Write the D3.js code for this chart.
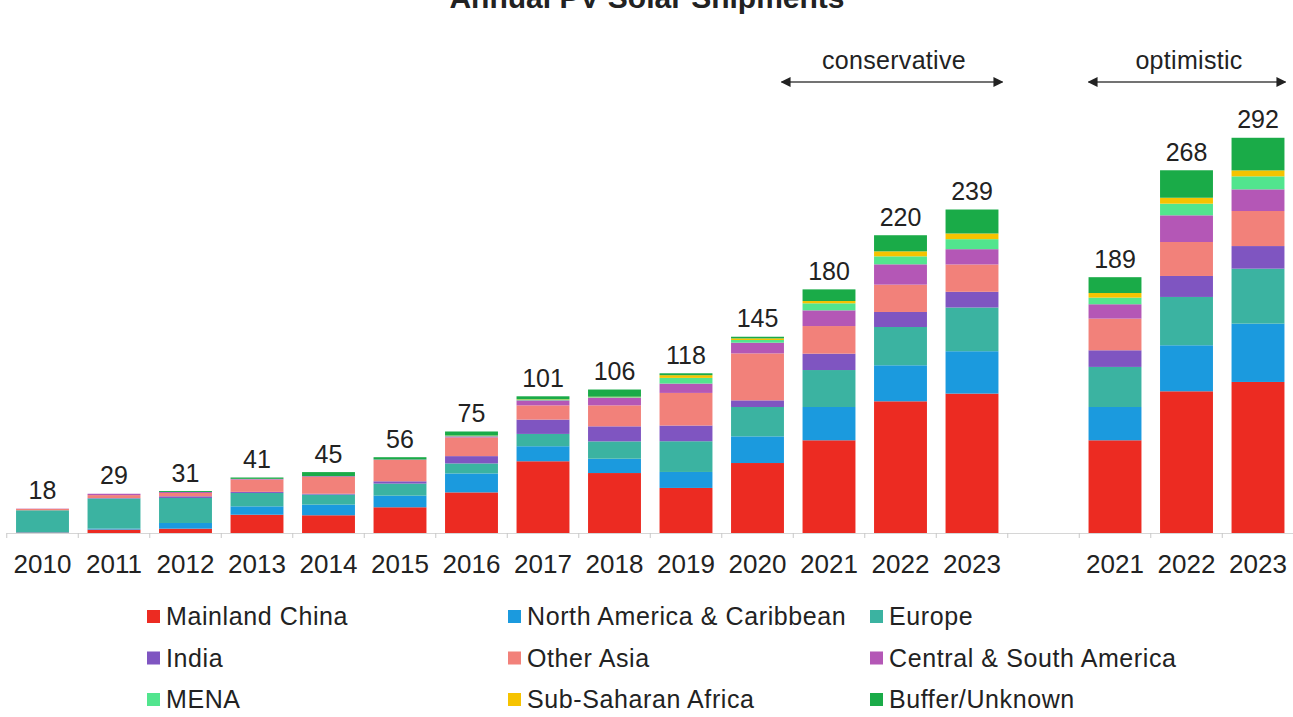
<!DOCTYPE html>
<html>
<head>
<meta charset="utf-8">
<script src="https://cdn.jsdelivr.net/npm/d3@7"></script>
<style>
  body { margin: 0; background: #fff; }
  svg { display: block; font-family: "Liberation Sans", Arial, sans-serif; }
</style>
</head>
<body>
<div id="chart"></div>
<script>
// bar labels, 14 actual/conservative + 3 optimistic
var years = ["2010", "2011", "2012", "2013", "2014", "2015", "2016", "2017", "2018", "2019",
             "2020", "2021", "2022", "2023", "2021", "2022", "2023"];
var totals = [18, 29, 31, 41, 45, 56, 75, 101, 106, 118, 145, 180, 220, 239, 189, 268, 292];

var regions = ["Mainland China", "North America & Caribbean", "Europe", "India", "Other Asia",
               "Central & South America", "MENA", "Sub-Saharan Africa", "Buffer/Unknown"];
var colors = ["#ec2b22", "#1b9ade", "#3bb3a1", "#7f55c1", "#f2817a", "#b457b6", "#52e58e", "#f6c300", "#1aab48"];

var china    = [0.3, 2.5, 3.2, 13.5, 13.1, 19, 30, 53, 44.3, 33.3, 51.7, 68.5, 97.3, 103, 68.5, 104.7, 111.6];
var nAmerica = [0.3, 0.8, 4.2, 6.2, 7.9, 8.6, 14, 11.1, 10.6, 11.8, 19.7, 24.6, 26.6, 31.3, 24.6, 34, 43.1];
var europe   = [16.2, 22.2, 18.5, 9.9, 7.4, 8.9, 7.4, 9.1, 12.8, 22.7, 21.7, 27.3, 28.3, 32.3, 29.6, 35.7, 40.6];
var india    = [0, 0.3, 1.2, 0.8, 0.6, 1.7, 5.4, 10.6, 11.1, 11.6, 4.9, 12.1, 11.1, 11.6, 12.3, 15.5, 16.7];
var otherAsia = [1, 2.2, 2.5, 9.1, 12.5, 15.8, 13.8, 10.5, 15.5, 24.1, 34.7, 20.4, 20.2, 20.2, 23.4, 25.1, 25.9];
var csAmerica = [0.2, 1, 0.7, 0.5, 0.5, 0.3, 0.8, 3.7, 5.7, 6.9, 7.9, 11.6, 15, 11.3, 10.6, 19.7, 16];
var mena     = [0, 0, 0, 0, 0, 0, 0.4, 0.5, 0.4, 4.2, 2, 5.2, 5.9, 7.4, 4.9, 8.6, 9.6];
var ssAfrica = [0, 0, 0, 0, 0, 0, 0.2, 0.3, 0.3, 2, 1.2, 1.7, 3.7, 4.2, 3.4, 4.4, 4.4];
var buffer   = [0, 0, 0.7, 1, 3, 1.7, 3, 2.2, 5.3, 1.4, 1.2, 8.6, 11.9, 17.7, 11.7, 20.3, 24.1];

var series = [china, nAmerica, europe, india, otherAsia, csAmerica, mena, ssAfrica, buffer];

var width = 1293, height = 717;
var baseY = 533;

// one empty slot between conservative and optimistic groups
function slot(i) { return i < 14 ? i : i + 1; }

var rows = years.map(function (y, i) {
  var r = { i: i, slot: slot(i) };
  regions.forEach(function (k, j) { r[k] = series[j][i]; });
  return r;
});

var x = d3.scaleBand()
  .domain(d3.range(18))
  .range([6.75, 1293.75])
  .paddingInner(0.26)
  .paddingOuter(0.13);

var y = d3.scaleLinear()
  .domain([0, 300])
  .range([baseY, baseY - 300 * 1.3535]);

var svg = d3.select('#chart').append('svg')
  .attr('width', width)
  .attr('height', height);

// title, clipped by the top edge as in the source image
svg.append('text')
  .attr('x', 647).attr('y', 8)
  .attr('text-anchor', 'middle')
  .style('font-size', '30px').style('font-weight', 'bold')
  .style('fill', '#222')
  .text('Annual PV Solar Shipments');

// axis line with ticks on band boundaries
var half = x.step() * x.paddingInner() / 2;
svg.append('line')
  .attr('x1', x.range()[0]).attr('x2', x.range()[1])
  .attr('y1', baseY + 0.5).attr('y2', baseY + 0.5)
  .style('stroke', '#d6d6d6').style('stroke-width', 1);
svg.append('g').selectAll('line')
  .data(d3.range(19))
  .enter().append('line')
  .attr('x1', function (d) { return d < 18 ? x(d) - half : x(17) + x.bandwidth() + half; })
  .attr('x2', function (d) { return d < 18 ? x(d) - half : x(17) + x.bandwidth() + half; })
  .attr('y1', baseY).attr('y2', baseY + 5)
  .style('stroke', '#c8c8c8');

var stack = d3.stack().keys(regions);
var layers = stack(rows);

svg.append('g').selectAll('g')
  .data(layers)
  .enter().append('g')
  .style('fill', function (d, i) { return colors[i]; })
  .selectAll('rect')
  .data(function (d) { return d; })
  .enter().append('rect')
  .attr('x', function (d) { return x(d.data.slot); })
  .attr('y', function (d) { return y(d[1]); })
  .attr('width', x.bandwidth())
  .attr('height', function (d) { return Math.max(0, y(d[0]) - y(d[1])); });

// totals
svg.append('g').selectAll('text')
  .data(rows)
  .enter().append('text')
  .attr('x', function (d) { return x(d.slot) + x.bandwidth() / 2; })
  .attr('y', function (d) { return y(totals[d.i]) - 9.5; })
  .attr('text-anchor', 'middle')
  .style('font-size', '25px').style('fill', '#222')
  .text(function (d) { return totals[d.i]; });

// year labels
svg.append('g').selectAll('text')
  .data(rows)
  .enter().append('text')
  .attr('x', function (d) { return x(d.slot) + x.bandwidth() / 2; })
  .attr('y', 573)
  .attr('text-anchor', 'middle')
  .style('font-size', '26px').style('fill', '#222')
  .text(function (d) { return years[d.i]; });

// scenario arrows
var defs = svg.append('defs');
defs.append('marker')
  .attr('id', 'arr')
  .attr('viewBox', '0 0 10 10')
  .attr('refX', 9).attr('refY', 5)
  .attr('markerWidth', 10).attr('markerHeight', 10)
  .attr('markerUnits', 'userSpaceOnUse')
  .attr('orient', 'auto-start-reverse')
  .append('path')
  .attr('d', 'M0,0L10,5L0,10Z')
  .style('fill', '#222');

var scenarios = [
  { label: 'conservative', x1: x(11) - 21, x2: x(13) + x.bandwidth() + 4 },
  { label: 'optimistic', x1: x(15), x2: x(17) + x.bandwidth() + 1 }
];
var sg = svg.append('g').selectAll('g').data(scenarios).enter().append('g');
sg.append('line')
  .attr('x1', function (d) { return d.x1; }).attr('x2', function (d) { return d.x2; })
  .attr('y1', 82).attr('y2', 82)
  .style('stroke', '#444').style('stroke-width', 1.6)
  .attr('marker-start', 'url(#arr)')
  .attr('marker-end', 'url(#arr)');
sg.append('text')
  .attr('x', function (d) { return (d.x1 + d.x2) / 2 + 2; })
  .attr('y', 69)
  .attr('text-anchor', 'middle')
  .style('font-size', '25px').style('fill', '#222')
  .style('letter-spacing', '0.3px')
  .text(function (d) { return d.label; });

// legend, 3 columns
var legCols = [147, 508, 870], legRows = [625, 666.5, 708];
var lg = svg.append('g').selectAll('g')
  .data(regions)
  .enter().append('g')
  .attr('transform', function (d, i) {
    return 'translate(' + legCols[i % 3] + ',' + legRows[Math.floor(i / 3)] + ')';
  });
lg.append('rect')
  .attr('x', 0).attr('y', -15)
  .attr('width', 13).attr('height', 13)
  .style('fill', function (d, i) { return colors[i]; });
lg.append('text')
  .attr('x', 19).attr('y', 0)
  .style('font-size', '25px').style('fill', '#222')
  .style('letter-spacing', '0.6px')
  .text(function (d) { return d; });
</script>
</body>
</html>
